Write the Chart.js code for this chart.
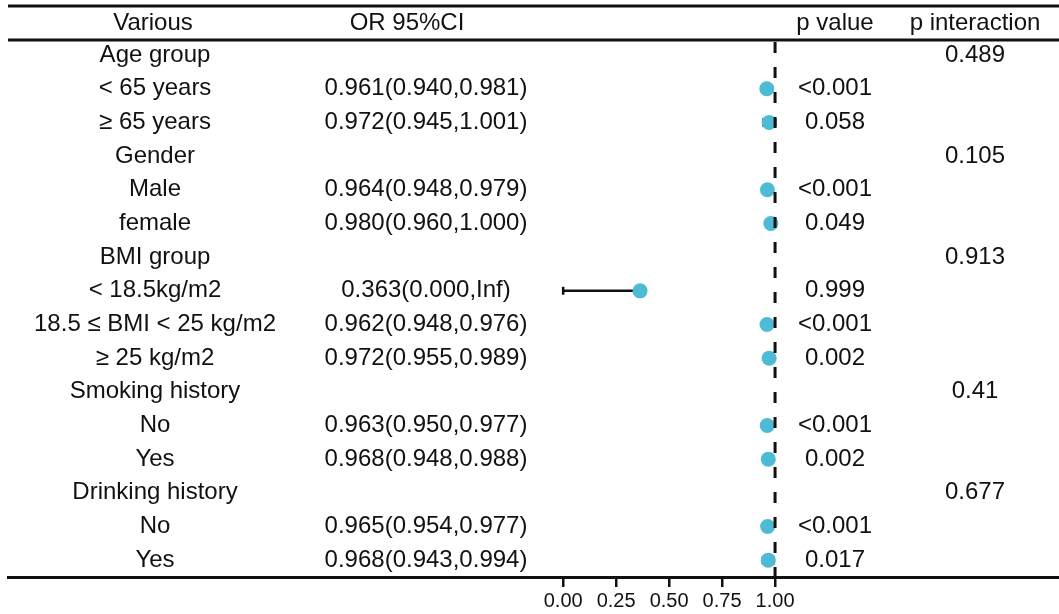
<!DOCTYPE html>
<html>
<head>
<meta charset="utf-8">
<title>Subgroup forest plot</title>
<script src="https://cdn.jsdelivr.net/npm/chart.js@4.4.1/dist/chart.umd.min.js"></script>
<style>
  html, body { margin: 0; padding: 0; background: #fff; }
  #wrap { width: 1059px; height: 614px; }
</style>
</head>
<body>
<div id="wrap"><canvas id="forest" width="1059" height="614"></canvas></div>
<script>
// table rows, top to bottom
const rowLabels = [
  'Age group', '< 65 years', '≥ 65 years',
  'Gender', 'Male', 'female',
  'BMI group', '< 18.5kg/m2', '18.5 ≤ BMI < 25 kg/m2', '≥ 25 kg/m2',
  'Smoking history', 'No', 'Yes',
  'Drinking history', 'No', 'Yes'
];
const orValues = [null, 0.961, 0.972, null, 0.964, 0.980, null, 0.363, 0.962, 0.972, null, 0.963, 0.968, null, 0.965, 0.968];
const ciLower  = [null, 0.940, 0.945, null, 0.948, 0.960, null, 0.000, 0.948, 0.955, null, 0.950, 0.948, null, 0.954, 0.943];
const ciUpper  = [null, 0.981, 1.001, null, 0.979, 1.000, null, Infinity, 0.976, 0.989, null, 0.977, 0.988, null, 0.977, 0.994];
const pValues  = ['', '<0.001', '0.058', '', '<0.001', '0.049', '', '0.999', '<0.001', '0.002', '', '<0.001', '0.002', '', '<0.001', '0.017'];
const pInteraction = ['0.489', '', '', '0.105', '', '', '0.913', '', '', '', '0.41', '', '', '0.677', '', ''];
const xTicks = [0, 0.25, 0.5, 0.75, 1];
const refLine = 1;

const FONT = '"Liberation Sans", Arial, sans-serif';
const DOT = '#4DBBD5';

// column centres for the text part of the table
const COL = { label: 155, or: 426, p: 835, pint: 975 };

function fmt(v) { return isFinite(v) ? v.toFixed(3) : 'Inf'; }
const orText = orValues.map((v, i) => v == null ? '' : `${fmt(v)}(${fmt(ciLower[i])},${fmt(ciUpper[i])})`);

const points = [];
orValues.forEach((v, i) => { if (v != null) points.push({ x: v, y: i }); });

// header, rules, text columns, whiskers and the dashed reference line
const tablePlugin = {
  id: 'forestTable',
  beforeDatasetsDraw(chart) {
    const { ctx, chartArea: a, scales: { x, y } } = chart;
    ctx.save();
    // rules
    ctx.strokeStyle = '#111';
    ctx.lineWidth = 3;
    ctx.beginPath();
    ctx.moveTo(a.left, 6); ctx.lineTo(a.right, 6);
    ctx.moveTo(a.left, a.top); ctx.lineTo(a.right, a.top);
    ctx.stroke();

    ctx.fillStyle = '#111';
    ctx.font = `24px ${FONT}`;
    ctx.textAlign = 'center';
    ctx.textBaseline = 'middle';
    const hy = 23;
    ctx.fillText('Various', 153, hy);
    ctx.fillText('OR 95%CI', 407, hy);
    ctx.fillText('p value', COL.p, hy);
    ctx.fillText('p interaction', COL.pint, hy);

    rowLabels.forEach((lab, i) => {
      const py = y.getPixelForValue(i);
      ctx.fillText(lab, COL.label, py);
      if (orText[i]) ctx.fillText(orText[i], COL.or, py);
      if (pValues[i]) ctx.fillText(pValues[i], COL.p, py);
      if (pInteraction[i]) ctx.fillText(pInteraction[i], COL.pint, py);
    });

    // confidence interval whiskers
    ctx.lineWidth = 2.5;
    ctx.strokeStyle = '#111';
    orValues.forEach((v, i) => {
      if (v == null) return;
      const py = y.getPixelForValue(i);
      const lo = x.getPixelForValue(ciLower[i]);
      const hiOpen = !isFinite(ciUpper[i]);
      const hi = x.getPixelForValue(hiOpen ? v : ciUpper[i]);
      ctx.beginPath();
      ctx.moveTo(lo, py); ctx.lineTo(hi, py);
      ctx.moveTo(lo, py - 4); ctx.lineTo(lo, py + 4);
      if (!hiOpen) { ctx.moveTo(hi, py - 4); ctx.lineTo(hi, py + 4); }
      ctx.stroke();
    });
    ctx.restore();
  },
  afterDatasetsDraw(chart) {
    const { ctx, chartArea: a, scales: { x } } = chart;
    const rx = x.getPixelForValue(refLine);
    ctx.save();
    ctx.strokeStyle = '#111';
    ctx.lineWidth = 3;
    ctx.setLineDash([11, 14]);
    ctx.beginPath();
    ctx.moveTo(rx, a.top + 2);
    ctx.lineTo(rx, a.bottom);
    ctx.stroke();
    ctx.restore();
  }
};

new Chart(document.getElementById('forest').getContext('2d'), {
  type: 'scatter',
  data: {
    datasets: [{
      data: points,
      pointRadius: 7.5,
      pointHoverRadius: 7.5,
      pointBackgroundColor: DOT,
      pointBorderWidth: 0
    }]
  },
  options: {
    responsive: false,
    animation: false,
    layout: { autoPadding: false, padding: { left: 8, right: 0, top: 40, bottom: 0 } },
    plugins: { legend: { display: false }, tooltip: { enabled: false } },
    scales: {
      x: {
        type: 'linear',
        min: -2.62,
        max: 2.34,
        afterBuildTicks: s => { s.ticks = xTicks.map(v => ({ value: v })); },
        afterFit: s => { s.height = 37; },
        border: { display: true, color: '#111', width: 3 },
        grid: { drawOnChartArea: false, drawTicks: true, tickLength: 10, color: '#111', lineWidth: 2.5 },
        ticks: {
          autoSkip: false, maxRotation: 0, padding: 2, color: '#111',
          font: { family: FONT, size: 20 },
          callback: v => Number(v).toFixed(2)
        }
      },
      y: {
        type: 'linear',
        display: false,
        reverse: true,
        min: -0.45,
        max: 15.5
      }
    }
  },
  plugins: [tablePlugin]
});
</script>
</body>
</html>
